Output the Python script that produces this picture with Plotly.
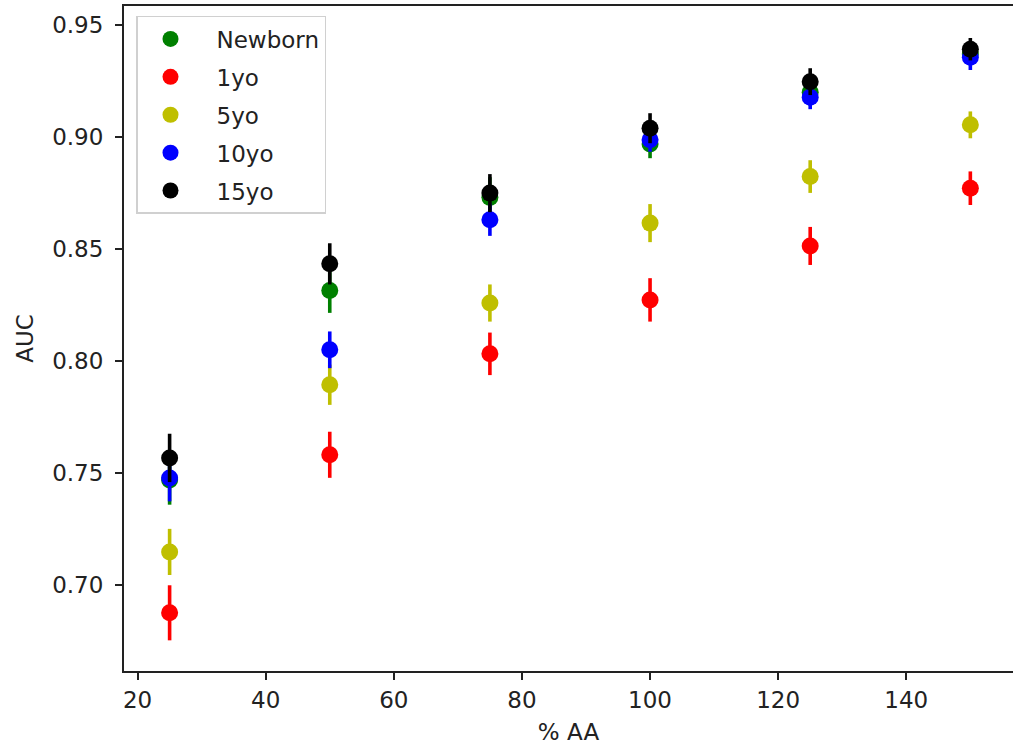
import plotly.graph_objects as go

pct_aa = [25, 50, 75, 100, 125, 150]

series_names = ["Newborn", "1yo", "5yo", "10yo", "15yo"]
series_colors = ["#008000", "#ff0000", "#bfbf00", "#0000ff", "#000000"]

auc_newborn = [0.7467, 0.8314, 0.8730, 0.8969, 0.9200, 0.9370]
auc_1yo = [0.6874, 0.7580, 0.8031, 0.8272, 0.8513, 0.8771]
auc_5yo = [0.7146, 0.7893, 0.8258, 0.8615, 0.8823, 0.9054]
auc_10yo = [0.7476, 0.8049, 0.8630, 0.8987, 0.9177, 0.9356]
auc_15yo = [0.7566, 0.8433, 0.8749, 0.9039, 0.9247, 0.9392]

err_newborn = [0.0110, 0.0100, 0.0090, 0.0064, 0.0060, 0.0050]
err_1yo = [0.0123, 0.0103, 0.0095, 0.0097, 0.0085, 0.0075]
err_5yo = [0.0103, 0.0090, 0.0083, 0.0085, 0.0073, 0.0060]
err_10yo = [0.0104, 0.0082, 0.0072, 0.0053, 0.0053, 0.0057]
err_15yo = [0.0108, 0.0092, 0.0085, 0.0067, 0.0060, 0.0050]

x_ticks = [20, 40, 60, 80, 100, 120, 140]
y_ticks = [0.70, 0.75, 0.80, 0.85, 0.90, 0.95]

all_auc = [auc_newborn, auc_1yo, auc_5yo, auc_10yo, auc_15yo]
all_err = [err_newborn, err_1yo, err_5yo, err_10yo, err_15yo]

FONT = "DejaVu Sans"
FS = 23

fig = go.Figure()
for name, color, vals, errs in zip(series_names, series_colors, all_auc, all_err):
    fig.add_trace(go.Scatter(
        x=pct_aa, y=vals, mode="markers", name=name,
        legendgroup=name,
        marker=dict(color=color, size=17, line=dict(width=0)),
        error_y=dict(type="data", array=errs, visible=True,
                     color=color, thickness=3.6, width=0),
    ))

fig.update_layout(
    width=1013, height=749,
    margin=dict(l=124, r=0, t=6, b=78),
    paper_bgcolor="white", plot_bgcolor="white",
    font=dict(family=FONT, size=FS, color="#222222"),
    showlegend=True,
    legend=dict(
        x=0.0135, y=0.985, xanchor="left", yanchor="top",
        bgcolor="white", bordercolor="#d0d0d0", borderwidth=1.5,
        font=dict(family=FONT, size=FS, color="#222222"),
        traceorder="grouped", tracegroupgap=5, indentation=-13,
        itemsizing="trace", itemwidth=82,
        entrywidth=122, entrywidthmode="pixels",
    ),
    xaxis=dict(
        range=[17.88, 156.66], tickvals=x_ticks,
        ticks="outside", ticklen=7, tickwidth=1.5, tickcolor="#222222",
        showline=True, linecolor="#222222", linewidth=2, mirror=True,
        showgrid=False, zeroline=False,
        title=dict(text="% AA", standoff=12, font=dict(size=FS)),
    ),
    yaxis=dict(
        range=[0.6614, 0.9585], tickvals=y_ticks, tickformat=".2f",
        ticks="outside", ticklen=7, tickwidth=1.5, tickcolor="#222222",
        ticklabelstandoff=7,
        showline=True, linecolor="#222222", linewidth=2, mirror=False,
        showgrid=False, zeroline=False,
        title=dict(text="AUC", standoff=12, font=dict(size=FS)),
    ),
)

fig.write_html(
    "out.html",
    config={"displayModeBar": False},
    post_script="document.body.style.margin='0';document.body.style.overflow='hidden';",
)
